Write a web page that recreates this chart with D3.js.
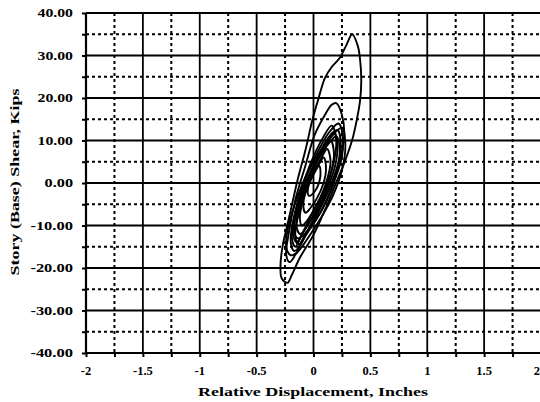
<!DOCTYPE html>
<html><head><meta charset="utf-8">
<script src="https://cdn.jsdelivr.net/npm/d3@7"></script>
<style>body{margin:0;background:#fff}svg{display:block}</style>
</head><body>
<script>
// ---- data ----
const xTicks = [-2, -1.5, -1, -0.5, 0, 0.5, 1, 1.5, 2];
const xTickLabels = ["-2", "-1.5", "-1", "-0.5", "0", "0.5", "1", "1.5", "2"];
const xMinor = [-1.75, -1.25, -0.75, -0.25, 0.25, 0.75, 1.25, 1.75];
const yTicks = [40, 30, 20, 10, 0, -10, -20, -30, -40];
const yTickLabels = ["40.00", "30.00", "20.00", "10.00", "0.00", "-10.00", "-20.00", "-30.00", "-40.00"];
const yMinor = [35, 25, 15, 5, -5, -15, -25, -35];
const xTitle = "Relative Displacement, Inches";
const yTitle = "Story (Base) Shear, Kips";

// hysteresis loops: [displacement (in), shear (kips)]
const loop1 = [[0.34,35.0],[0.39,32.2],[0.41,28.9],[0.42,24.2],[0.41,19.5],[0.38,14.8],[0.34,10.1],[0.28,5.4],[0.19,-0.5],[0.10,-6.4],[0.0,-12.2],[-0.12,-17.6],[-0.19,-21.6],[-0.23,-23.5],[-0.28,-22.4],[-0.29,-19.3],[-0.27,-14.6],[-0.23,-9.9],[-0.19,-5.2],[-0.14,0.7],[-0.07,7.8],[-0.01,14.8],[0.04,19.5],[0.10,24.7],[0.16,27.3],[0.23,29.4],[0.29,32.5]];
const loop2 = [[0.20,18.8],[0.25,16.0],[0.27,11.3],[0.23,5.4],[0.15,-0.5],[0.04,-6.4],[-0.07,-12.2],[-0.16,-16.9],[-0.21,-18.6],[-0.24,-16.9],[-0.22,-12.2],[-0.16,-4.0],[-0.07,4.2],[0.01,11.3],[0.10,16.0],[0.16,18.4]];
const loop3 = [[0.22,14],[0.26,10],[0.24,5],[0.16,-1],[0.06,-7],[-0.06,-12],[-0.14,-15.5],[-0.17,-16],[-0.2,-14],[-0.18,-9],[-0.12,-3],[-0.04,3],[0.05,8],[0.14,12]];
const loop4 = [[0.18,12],[0.21,9],[0.19,4],[0.11,-2],[0.02,-7],[-0.08,-11],[-0.13,-13.5],[-0.15,-14],[-0.18,-12],[-0.16,-7],[-0.1,-2],[-0.02,3],[0.07,8],[0.14,11]];
const loop5 = [[0.25,13],[0.28,9],[0.25,3],[0.17,-3],[0.07,-8],[-0.05,-13],[-0.15,-16.5],[-0.2,-17],[-0.24,-15],[-0.22,-10],[-0.15,-4],[-0.06,2],[0.05,7],[0.16,11]];
const loop6 = [[0.15,10],[0.18,7],[0.15,2],[0.08,-3],[-0.01,-8],[-0.09,-11.5],[-0.12,-12],[-0.15,-10],[-0.12,-5],[-0.06,0],[0.03,5],[0.1,8.5]];
const loop7 = [[0.12,8],[0.15,5],[0.11,0],[0.03,-5],[-0.06,-9],[-0.1,-10],[-0.12,-8],[-0.08,-3],[-0.01,2],[0.07,6]];
const loop8 = [[0.2,11],[0.23,8],[0.2,2],[0.12,-4],[0.01,-9],[-0.1,-12.5],[-0.14,-13],[-0.17,-11],[-0.13,-5],[-0.05,1],[0.05,6],[0.14,9.5]];
const loop9 = [[0.09,6],[0.11,3],[0.06,-2],[-0.03,-6],[-0.07,-7],[-0.09,-5],[-0.04,0],[0.04,4]];
const loop10 = [[0.05,4],[0.06,1.5],[0.01,-2],[-0.04,-3],[-0.05,-1.5],[0.0,2]];
const loop11 = [[0.16,13.5],[0.2,10],[0.17,4],[0.09,-2],[-0.01,-7],[-0.1,-12],[-0.16,-15],[-0.19,-13],[-0.16,-7],[-0.1,-1],[-0.02,5],[0.08,10.5]];
const loop12 = [[0.21,12.5],[0.24,8.5],[0.2,3],[0.12,-2.5],[0.03,-7.5],[-0.07,-12],[-0.13,-14.5],[-0.16,-12.5],[-0.12,-6],[-0.05,0.5],[0.04,6],[0.13,10.5]];
const loops = [loop1, loop2, loop3, loop4, loop5, loop6, loop7, loop8, loop9, loop10, loop11, loop12];

// ---- drawing ----
const W = 540, H = 402;
const svg = d3.select("body").append("svg").attr("width", W).attr("height", H);
const x = d3.scaleLinear().domain([-2, 2]).range([86, 541]);
const y = d3.scaleLinear().domain([-40, 40]).range([353, 13]);

const g = svg.append("g");
// minor dotted grid
g.selectAll(".vmin").data(xMinor).join("line")
  .attr("x1", d => x(d)).attr("x2", d => x(d)).attr("y1", y(40)).attr("y2", y(-40))
  .attr("stroke", "#000").attr("stroke-width", 2).attr("stroke-dasharray", "3,3");
g.selectAll(".hmin").data(yMinor).join("line")
  .attr("x1", x(-2)).attr("x2", x(2)).attr("y1", d => y(d)).attr("y2", d => y(d))
  .attr("stroke", "#000").attr("stroke-width", 2).attr("stroke-dasharray", "3,3");
// major solid grid
g.selectAll(".vmaj").data(xTicks).join("line")
  .attr("x1", d => x(d)).attr("x2", d => x(d)).attr("y1", y(40)).attr("y2", y(-40))
  .attr("stroke", "#000").attr("stroke-width", 1.8);
g.selectAll(".hmaj").data(yTicks).join("line")
  .attr("x1", x(-2)).attr("x2", x(2)).attr("y1", d => y(d)).attr("y2", d => y(d))
  .attr("stroke", "#000").attr("stroke-width", 1.8);

// axes ticks
const allX = xTicks.concat(xMinor), allY = yTicks.concat(yMinor);
svg.append("g").attr("transform", `translate(0,${y(-40)})`)
  .call(d3.axisBottom(x).tickValues(allX).tickSize(4).tickFormat(""))
  .call(a => a.select(".domain").remove())
  .selectAll("line").attr("stroke-width", 2);
svg.append("g").attr("transform", `translate(${x(-2)},0)`)
  .call(d3.axisLeft(y).tickValues(allY).tickSize(4).tickFormat(""))
  .call(a => a.select(".domain").remove())
  .selectAll("line").attr("stroke-width", 2);
// axis lines
svg.append("line").attr("x1", x(-2)).attr("x2", x(-2)).attr("y1", y(40)).attr("y2", y(-40)).attr("stroke", "#000").attr("stroke-width", 2.2);
svg.append("line").attr("x1", x(-2)).attr("x2", x(2)).attr("y1", y(-40)).attr("y2", y(-40)).attr("stroke", "#000").attr("stroke-width", 2.2);

// loops
const line = d3.line().x(d => x(d[0])).y(d => y(d[1])).curve(d3.curveCatmullRomClosed);
svg.append("g").selectAll("path").data(loops).join("path")
  .attr("d", line).attr("fill", "none").attr("stroke", "#000").attr("stroke-width", 1.9);

// labels
const font = "'Liberation Serif', 'Times New Roman', serif";
svg.append("g").selectAll("text").data(yTicks).join("text")
  .attr("x", 73).attr("y", d => y(d) + 4)
  .attr("text-anchor", "end").attr("font-family", font).attr("font-weight", "bold")
  .attr("font-size", 11.5)
  .attr("textLength", (d, i) => yTickLabels[i].length * 7.1).attr("lengthAdjust", "spacingAndGlyphs")
  .text((d, i) => yTickLabels[i]);
svg.append("g").selectAll("text").data(xTicks).join("text")
  .attr("x", (d, i) => i === xTicks.length - 1 ? 540 : x(d)).attr("y", 375)
  .attr("text-anchor", (d, i) => i === xTicks.length - 1 ? "end" : "middle")
  .attr("font-family", font).attr("font-weight", "bold")
  .attr("font-size", 12.5)
  .text((d, i) => xTickLabels[i]);
svg.append("text").attr("x", 313).attr("y", 396).attr("text-anchor", "middle")
  .attr("font-family", font).attr("font-weight", "bold").attr("font-size", 13.5)
  .attr("textLength", 230).attr("lengthAdjust", "spacingAndGlyphs").text(xTitle);
svg.append("text").attr("transform", "translate(19,182) rotate(-90)").attr("text-anchor", "middle")
  .attr("font-family", font).attr("font-weight", "bold").attr("font-size", 13.5)
  .attr("textLength", 187).attr("lengthAdjust", "spacingAndGlyphs").text(yTitle);
</script>
</body></html>
